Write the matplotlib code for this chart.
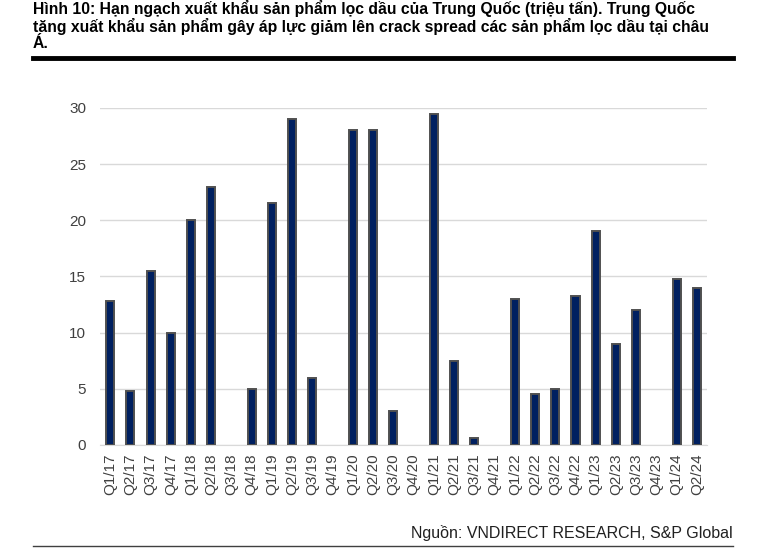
import matplotlib
matplotlib.use('Agg')
import matplotlib.pyplot as plt
from matplotlib.lines import Line2D

quarters = ['Q1/17', 'Q2/17', 'Q3/17', 'Q4/17', 'Q1/18', 'Q2/18', 'Q3/18', 'Q4/18',
            'Q1/19', 'Q2/19', 'Q3/19', 'Q4/19', 'Q1/20', 'Q2/20', 'Q3/20', 'Q4/20',
            'Q1/21', 'Q2/21', 'Q3/21', 'Q4/21', 'Q1/22', 'Q2/22', 'Q3/22', 'Q4/22',
            'Q1/23', 'Q2/23', 'Q3/23', 'Q4/23', 'Q1/24', 'Q2/24']
quota = [12.8, 4.8, 15.5, 10, 20, 23, 0, 5,
         21.5, 29, 6, 0, 28, 28, 3, 0,
         29.5, 7.5, 0.6, 0, 13, 4.5, 5, 13.3,
         19, 9, 12, 0, 14.8, 14]

title = ('Hình 10: Hạn ngạch xuất khẩu sản phẩm lọc dầu của Trung Quốc (triệu tấn). Trung Quốc\n'
         'tăng xuất khẩu sản phẩm gây áp lực giảm lên crack spread các sản phẩm lọc dầu tại châu\n'
         'Á.')
source = 'Nguồn: VNDIRECT RESEARCH, S&P Global'

plt.rcParams['font.family'] = ['Liberation Sans', 'DejaVu Sans']

fig = plt.figure(figsize=(7.66, 5.59), dpi=100)
ax = fig.add_axes([0.1305, 0.204, 0.7925, 0.603])

x = list(range(len(quarters)))
edge_widths = [1.4 if v > 0 else 0 for v in quota]
ax.bar(x, quota, width=0.4, color='#002060', edgecolor='#505050',
       linewidth=edge_widths, zorder=3)

ax.set_xlim(-0.5, len(quarters) - 0.5)
ax.set_ylim(0, 30)
ax.set_yticks([0, 5, 10, 15, 20, 25, 30])
ax.set_xticks(x)
ax.set_xticklabels(quarters, rotation=90)
ax.tick_params(axis='both', length=0, labelsize=11, colors='#404040')
ax.tick_params(axis='y', pad=10)
ax.tick_params(axis='x', pad=6)
ax.grid(axis='y', color='#d9d9d9', linewidth=1, zorder=0)
for s in ['top', 'right', 'left']:
    ax.spines[s].set_visible(False)
ax.spines['bottom'].set_color('#d9d9d9')

fig.text(33 / 766, 1 - 0 / 559, title, ha='left', va='top', fontsize=11.3,
         fontweight='bold', linespacing=1.08)
fig.add_artist(Line2D([33 / 766, 733 / 766], [1 - 58 / 559, 1 - 58 / 559],
                      color='black', linewidth=3.5))
fig.text(733 / 766, 1 - 533 / 559, source, ha='right', va='center', fontsize=11.5, color='#202020')
fig.add_artist(Line2D([33 / 766, 733 / 766], [1 - 546 / 559, 1 - 546 / 559],
                      color='#404040', linewidth=1))

fig.savefig('out.png', dpi=100)
